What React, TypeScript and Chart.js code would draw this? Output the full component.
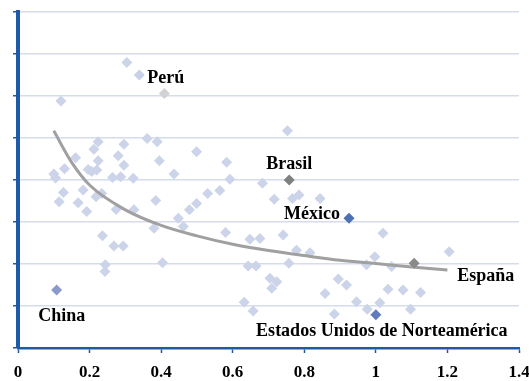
import React, { useEffect, useRef } from "react";
import { Chart, registerables } from "chart.js";

Chart.register(...registerables);

// Background countries (x, y)
const bgX = [
  0.12, 0.1, 0.105, 0.13, 0.161, 0.224, 0.212, 0.224, 0.196, 0.22, 0.206, 0.296, 0.28, 0.296, 0.264, 0.287,
  0.322, 0.361, 0.389, 0.395, 0.436, 0.499, 0.127, 0.115, 0.182, 0.168, 0.192, 0.218, 0.234, 0.274, 0.324,
  0.385, 0.38, 0.448, 0.462, 0.479, 0.499, 0.236, 0.268, 0.294, 0.244, 0.243, 0.404, 0.304, 0.753, 0.583,
  0.592, 0.683, 0.53, 0.564, 0.716, 0.767, 0.785, 0.844, 0.58, 0.648, 0.676, 0.741, 0.778, 0.816, 0.757,
  0.643, 0.665, 0.704, 0.723, 0.709, 0.858, 0.895, 0.918, 0.946, 0.632, 0.657, 0.884, 1.02, 1.205, 0.997,
  0.974, 1.044, 1.034, 1.076, 1.125, 0.976, 1.011, 1.097,
];
const bgY = [
  5.88, 4.14, 4.05, 4.27, 4.53, 4.91, 4.73, 4.46, 4.25, 4.24, 4.2, 4.85, 4.58, 4.35, 4.06, 4.08,
  4.04, 4.99, 4.91, 4.46, 4.14, 4.67, 3.7, 3.48, 3.76, 3.46, 3.25, 3.6, 3.68, 3.3, 3.29,
  3.51, 2.85, 3.09, 2.89, 3.29, 3.44, 2.67, 2.43, 2.43, 1.98, 1.82, 2.03, 6.8, 5.17, 4.42,
  4.02, 3.92, 3.68, 3.75, 3.54, 3.56, 3.64, 3.56, 2.75, 2.59, 2.61, 2.69, 2.33, 2.27, 2.02,
  1.95, 1.95, 1.66, 1.58, 1.42, 1.3, 1.64, 1.5, 1.1, 1.09, 0.88, 0.81, 2.73, 2.29, 2.17,
  1.98, 1.94, 1.4, 1.38, 1.32, 0.92, 1.08, 0.92,
];

// Grey single point
const greyX = [0.409];
const greyY = [6.06];

// Labelled countries
const hlNames = ["Perú", "Brasil", "México", "España", "China", "Estados Unidos de Norteamérica"];
const hlX = [0.339, 0.758, 0.925, 1.107, 0.108, 1.0];
const hlY = [6.5, 4.0, 3.09, 2.02, 1.38, 0.79];
const hlColors = ["#c9d1e9", "#808080", "#4d70b4", "#8a8a8a", "#8a9bcb", "#5f7bbd"];
// label offsets (px) relative to each point and alignment
const hlDX = [8, 0, -9, 43, 5, 6];
const hlDY = [3, -16, -4, 13, 26, 17];
const hlAlign: CanvasTextAlign[] = ["left", "center", "right", "left", "center", "center"];

// Trend line
const trendX = [0.1, 0.15, 0.2, 0.3, 0.4, 0.5, 0.6, 0.7, 0.8, 0.9, 1.0, 1.1, 1.2];
const trendY = [5.17, 4.42, 3.88, 3.29, 2.92, 2.67, 2.47, 2.32, 2.2, 2.09, 2.01, 1.93, 1.86];

const xTickLabels = ["0", "0.2", "0.4", "0.6", "0.8", "1", "1.2", "1.4"];

const FONT = "'Liberation Serif', 'Times New Roman', serif";
const BLUE = "#1f5aa6";

const labelPlugin = {
  id: "countryLabels",
  afterDatasetsDraw(chart: any) {
    const meta = chart.getDatasetMeta(3);
    const ctx = chart.ctx;
    ctx.save();
    ctx.font = `bold 18px ${FONT}`;
    ctx.fillStyle = "#000";
    ctx.textBaseline = "middle";
    meta.data.forEach((el: any, i: number) => {
      ctx.textAlign = hlAlign[i];
      ctx.fillText(hlNames[i], el.x + hlDX[i], el.y + hlDY[i]);
    });
    ctx.restore();
  },
};

export default function App() {
  const ref = useRef<HTMLCanvasElement>(null);
  useEffect(() => {
    document.body.style.margin = "0";
    const chart = new Chart(ref.current!, {
      type: "scatter",
      data: {
        datasets: [
          {
            data: bgX.map((x, i) => ({ x, y: bgY[i] })),
            pointStyle: "rectRot",
            pointRadius: 5.5,
            pointBackgroundColor: "#ccd4ea",
            pointBorderWidth: 0,
            order: 4,
          } as any,
          {
            data: greyX.map((x, i) => ({ x, y: greyY[i] })),
            pointStyle: "rectRot",
            pointRadius: 5.5,
            pointBackgroundColor: "#d2d2d2",
            pointBorderWidth: 0,
            order: 3,
          } as any,
          {
            type: "line",
            data: trendX.map((x, i) => ({ x, y: trendY[i] })),
            borderColor: "#a0a0a0",
            borderWidth: 3,
            pointRadius: 0,
            cubicInterpolationMode: "monotone",
            fill: false,
            order: 2,
          } as any,
          {
            data: hlX.map((x, i) => ({ x, y: hlY[i] })),
            pointStyle: "rectRot",
            pointRadius: 5.5,
            pointBackgroundColor: hlColors,
            pointBorderWidth: 0,
            order: 1,
          } as any,
        ],
      },
      options: {
        animation: false,
        responsive: true,
        maintainAspectRatio: false,
        layout: { padding: { top: 12, right: 10, left: 0, bottom: 0 } },
        plugins: { legend: { display: false }, tooltip: { enabled: false } },
        scales: {
          x: {
            type: "linear",
            min: 0,
            max: 1.4,
            afterFit: (s: any) => {
              s.height = 33;
              s.paddingLeft = 0;
              s.paddingRight = 0;
            },
            ticks: {
              stepSize: 0.2,
              padding: 9,
              color: "#000",
              font: { family: FONT, size: 17, weight: "bold" },
              callback: (_v: any, i: number) => xTickLabels[i],
            },
            grid: {
              drawOnChartArea: false,
              drawTicks: true,
              tickLength: 5,
              tickColor: BLUE,
              tickWidth: 1.5,
            },
            border: { color: BLUE, width: 2.5 },
          },
          y: {
            type: "linear",
            min: 0,
            max: 8,
            afterFit: (s: any) => {
              s.width = 18;
              s.paddingTop = 0;
              s.paddingBottom = 0;
            },
            ticks: { stepSize: 1, display: false },
            grid: {
              color: "#d5dcee",
              lineWidth: 1.5,
              drawTicks: true,
              tickLength: 5,
              tickColor: BLUE,
              tickWidth: 1.5,
            },
            border: { color: BLUE, width: 4 },
          },
        },
      } as any,
      plugins: [labelPlugin],
    });
    return () => chart.destroy();
  }, []);
  return (
    <div style={{ position: "relative", width: 529, height: 381 }}>
      <canvas ref={ref} />
    </div>
  );
}
